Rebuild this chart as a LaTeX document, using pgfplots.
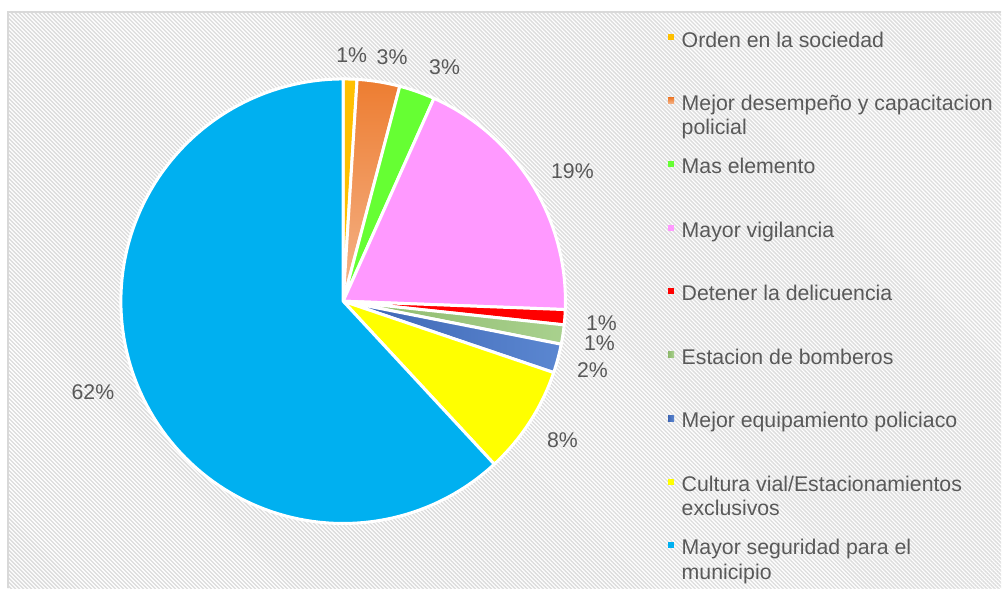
\documentclass[border=0pt]{standalone}
\usepackage{pgfplots}
\pgfplotsset{compat=1.18}
\usepackage{pgfplotstable}
\usepackage{fontspec}
\setmainfont{Liberation Sans}
\usetikzlibrary{patterns.meta}
\definecolor{txt}{HTML}{595959}
\definecolor{hatch}{HTML}{DCDCDC}
\definecolor{frame}{HTML}{D9D9D9}
\tikzset{
  sOrd/.style={fill={rgb,255:red,255;green,192;blue,0}},
  sDes/.style={top color={rgb,255:red,237;green,125;blue,49}, bottom color={rgb,255:red,245;green,181;blue,140}},
  sMas/.style={fill={rgb,255:red,102;green,255;blue,51}},
  sVig/.style={fill={rgb,255:red,255;green,153;blue,255}},
  sDet/.style={fill={rgb,255:red,255;green,0;blue,0}},
  sEst/.style={left color={rgb,255:red,140;green,184;blue,106}, right color={rgb,255:red,169;green,209;blue,142}},
  sEqu/.style={left color={rgb,255:red,61;green,101;blue,179}, right color={rgb,255:red,91;green,135;blue,209}},
  sCul/.style={fill={rgb,255:red,255;green,255;blue,0}},
  sSeg/.style={fill={rgb,255:red,0;green,176;blue,240}},
}
% percentages of each answer, clockwise from 12 o'clock
\pgfplotstableread[col sep=comma]{
name,value,sty
Orden,1.0,sOrd
Desempeno,3.1,sDes
Mas,2.6,sMas
Vigilancia,18.9,sVig
Detener,1.1,sDet
Estacion,1.4,sEst
Equipamiento,2.1,sEqu
Cultura,7.9,sCul
Seguridad,61.9,sSeg
}\piedata
% label positions (pixel coordinates) and texts
\pgfplotstableread{
x y lab
352 55 1\%
392.5 57 3\%
445 67.5 3\%
573 171 19\%
602 323 1\%
600 343.5 1\%
593 370 2\%
563 441 8\%
93 393 62\%
}\labdata
\newcommand\LE[1]{\parbox[c][48pt][t]{318pt}{\raggedright #1}}
\begin{document}
\begin{tikzpicture}
\begin{axis}[
  scale only axis, width=1002pt, height=589pt,
  xmin=0, xmax=1002, ymin=0, ymax=589, y dir=reverse,
  hide axis, clip=false,
  legend cell align=left,
  legend style={at={(axis description cs:0.66567,0.95196)}, anchor=north west,
    draw=none, fill=none, inner sep=0pt, row sep=12.5pt, column sep=7.7pt,
    nodes={inner sep=0pt}, font=\fontsize{21.3}{24.5}\selectfont, text=txt},
  legend image code/.code={\fill[#1,draw=none] (0pt,6.5pt) rectangle (6pt,12.5pt); \path (0pt,-31pt) (0pt,17pt);},
]
\fill[white] (axis cs:0,0) rectangle (axis cs:1002,589);
\fill[pattern={Lines[angle=-45,distance=2.83pt,line width=1.35pt]}, pattern color=hatch] (axis cs:8,12) rectangle (axis cs:1002,589);
\draw[frame, line width=2pt] (axis cs:8,589) -- (axis cs:8,12) -- (axis cs:1002,12);
\pgfmathsetmacro\cum{0}
\pgfplotsforeachungrouped \i in {0,...,8}{
  \pgfplotstablegetelem{\i}{value}\of\piedata \let\val\pgfplotsretval
  \pgfplotstablegetelem{\i}{sty}\of\piedata \let\sty\pgfplotsretval
  \pgfmathsetmacro\aS{90-3.6*\cum}
  \pgfmathsetmacro\aE{90-3.6*(\cum+\val)}
  \edef\doplot{\noexpand\addplot[\sty, draw=white, line width=3pt, line join=round,
     domain=\aE:\aS, samples=120, variable=\noexpand\t]
     ({343.5+222.5*cos(\noexpand\t)},{301.5-222.5*sin(\noexpand\t)}) -- (axis cs:343.5,301.5) -- cycle;}
  \doplot
  \pgfmathsetmacro\cum{\cum+\val}
}
\addplot[forget plot, only marks, mark=none, nodes near coords, point meta=explicit symbolic,
  every node near coord/.append style={anchor=center, text=txt, font=\fontsize{21.3}{24.5}\selectfont, inner sep=0pt}]
  table[x=x, y=y, meta=lab] {\labdata};
\legend{\LE{Orden en la sociedad},
  \LE{Mejor desempeño y capacitacion\\policial},
  \LE{Mas elemento},
  \LE{Mayor vigilancia},
  \LE{Detener la delicuencia},
  \LE{Estacion de bomberos},
  \LE{Mejor equipamiento policiaco},
  \LE{Cultura vial/Estacionamientos\\exclusivos},
  \LE{Mayor seguridad para el\\municipio}}
\end{axis}
\end{tikzpicture}
\end{document}
